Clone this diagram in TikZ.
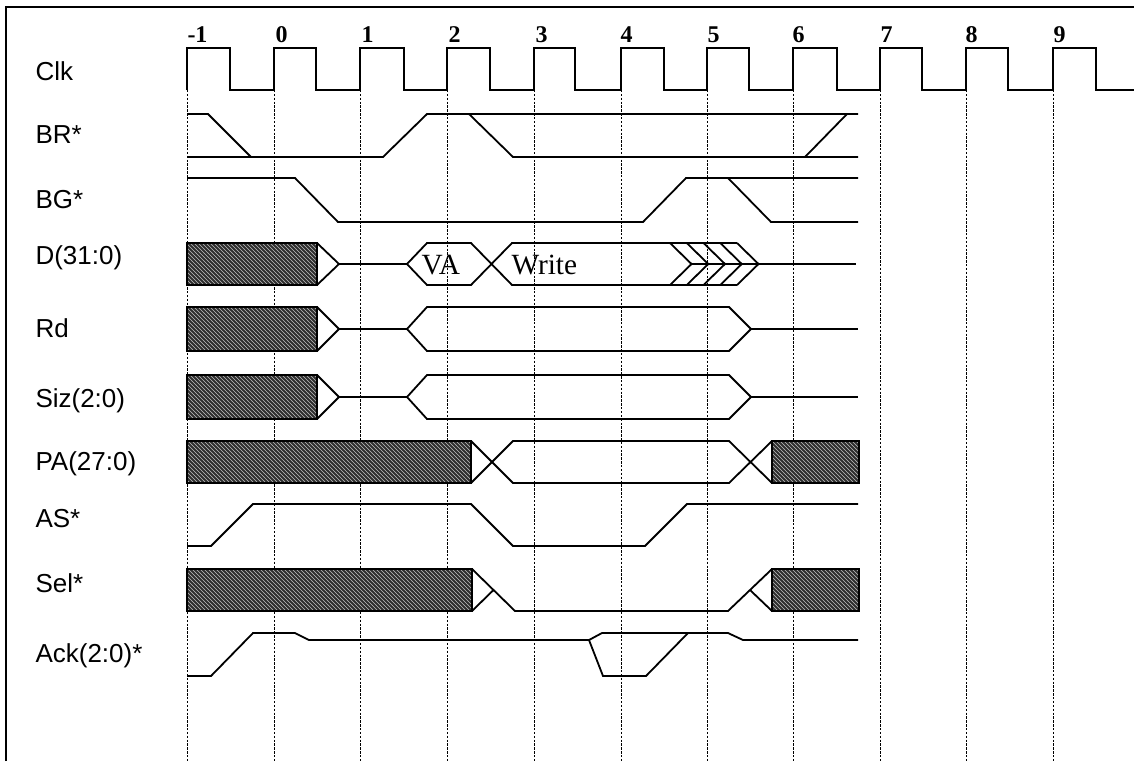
\documentclass[tikz,border=0pt]{standalone}
\usepackage{fontspec}
\setmainfont{Liberation Serif}
\setsansfont{Liberation Sans}
\usepackage{tikz}
\usetikzlibrary{patterns}
\tikzset{every picture/.style={line width=0.75pt}}
\tikzset{
	sig/.style={line width=1.35pt, line join=miter},
	tick/.style={line width=0.75pt, dash pattern=on 1.8pt off 1.1pt},
	bus/.style={sig, preaction={fill=black!82}, preaction={pattern=north west lines, pattern color=white!75!black}, draw},
	sname/.style={anchor=base west, inner sep=0pt, font=\sffamily\fontsize{19.5}{21}\selectfont},
	cnum/.style={anchor=base west, inner sep=0pt, font=\bfseries\fontsize{18}{20}\selectfont},
	val/.style={anchor=base west, inner sep=0pt, font=\fontsize{22}{24}\selectfont},
}
\begin{document}
\begin{tikzpicture}[x=0.75pt,y=0.75pt,yscale=-1,xscale=1]
	\useasboundingbox (0,0) rectangle (1134,761);
	
	%Frame
	\draw [line width=0.9pt] (6,761) -- (6,7) -- (1134,7) ;
	
	%Cycle lines
	\draw [tick] (187,90) -- (187,761) ;
	\draw [tick] (274,90) -- (274,761) ;
	\draw [tick] (360,90) -- (360,761) ;
	\draw [tick] (447,90) -- (447,761) ;
	\draw [tick] (534,90) -- (534,761) ;
	\draw [tick] (621,90) -- (621,761) ;
	\draw [tick] (707,90) -- (707,761) ;
	\draw [tick] (793,90) -- (793,761) ;
	\draw [tick] (880,90) -- (880,761) ;
	\draw [tick] (966,90) -- (966,761) ;
	\draw [tick] (1053,90) -- (1053,761) ;
	
	%Clk
	\draw [sig] (187,90) -- (187,48) -- (230,48) -- (230,90) -- (274,90) -- (274,48) -- (316,48) -- (316,90)
		-- (360,90) -- (360,48) -- (404,48) -- (404,90) -- (447,90) -- (447,48) -- (490,48) -- (490,90)
		-- (534,90) -- (534,48) -- (575,48) -- (575,90) -- (621,90) -- (621,48) -- (664,48) -- (664,90)
		-- (707,90) -- (707,48) -- (749,48) -- (749,90) -- (793,90) -- (793,48) -- (837,48) -- (837,90)
		-- (880,90) -- (880,48) -- (922,48) -- (922,90) -- (966,90) -- (966,48) -- (1008,48) -- (1008,90)
		-- (1053,90) -- (1053,48) -- (1096,48) -- (1096,90) -- (1134,90) ;
	
	%BR*
	\draw [sig] (187,114) -- (208,114) -- (251,157) ;
	\draw [sig] (187,157) -- (383,157) -- (427,114) -- (858,114) ;
	\draw [sig] (469,114) -- (513,157) -- (858,157) ;
	\draw [sig] (805,157) -- (847,114) ;
	
	%BG*
	\draw [sig] (187,178) -- (295,178) -- (338,222) -- (643,222) -- (686,178) -- (858,178) ;
	\draw [sig] (728,178) -- (771,222) -- (858,222) ;
	
	%D(31:0)
	\draw [bus] (187,243) rectangle (317,285) ;
	\draw [sig] (317,243) -- (339,264) -- (317,285) ;
	\draw [sig] (339,264) -- (407,264) ;
	\draw [sig] (407,264) -- (427,243) -- (471,243) -- (512,285) -- (737,285) ;
	\draw [sig] (407,264) -- (427,285) -- (471,285) -- (512,243) -- (737,243) ;
	\draw [sig] (670,243) -- (691.5,264) -- (670,285) ;
	\draw [sig] (686.75,243) -- (708.25,264) -- (686.75,285) ;
	\draw [sig] (703.5,243) -- (725,264) -- (703.5,285) ;
	\draw [sig] (720.25,243) -- (741.75,264) -- (720.25,285) ;
	\draw [sig] (737,243) -- (758.5,264) -- (737,285) ;
	\draw [sig] (691.5,264) -- (856,264) ;
	
	%Rd
	\draw [bus] (187,307) rectangle (317,351) ;
	\draw [sig] (317,307) -- (339,329) -- (317,351) ;
	\draw [sig] (339,329) -- (407,329) ;
	\draw [sig] (407,329) -- (427,307) -- (729,307) -- (751,329) -- (729,351) -- (427,351) -- cycle ;
	\draw [sig] (751,329) -- (858,329) ;
	
	%Siz(2:0)
	\draw [bus] (187,375) rectangle (317,419) ;
	\draw [sig] (317,375) -- (339,397) -- (317,419) ;
	\draw [sig] (339,397) -- (407,397) ;
	\draw [sig] (407,397) -- (427,375) -- (729,375) -- (751,397) -- (729,419) -- (427,419) -- cycle ;
	\draw [sig] (751,397) -- (858,397) ;
	
	%PA(27:0)
	\draw [bus] (187,441) rectangle (471,483) ;
	\draw [sig] (471,441) -- (513,483) -- (729,483) -- (772,441) ;
	\draw [sig] (471,483) -- (513,441) -- (729,441) -- (772,483) ;
	\draw [bus] (772,441) rectangle (859,483) ;
	
	%AS*
	\draw [sig] (187,546) -- (211,546) -- (253,504) -- (471,504) -- (513,546) -- (645,546) -- (687,504) -- (858,504) ;
	
	%Sel*
	\draw [bus] (187,569) rectangle (472,611) ;
	\draw [sig] (472,569) -- (515,611) -- (728,611) -- (772,569) ;
	\draw [sig] (472,611) -- (493.5,590) ;
	\draw [sig] (772,611) -- (750,590) ;
	\draw [bus] (772,569) rectangle (859,611) ;
	
	%Ack(2:0)*
	\draw [sig] (187,676) -- (211,676) -- (253,633) -- (295,633) -- (309,640) -- (589,640) -- (602,633) -- (728,633) -- (743,640) -- (858,640) ;
	\draw [sig] (589,640) -- (603,676) -- (646,676) -- (688,633) ;
	
	% Text Node
	\draw (35,80) node [sname] (lclk) {Clk};
	\draw (35,143) node [sname] (lbr) {BR*};
	\draw (35,208) node [sname] (lbg) {BG*};
	\draw (35,264) node [sname] (ld) {D(31:0)};
	\draw (35,337) node [sname] (lrd) {Rd};
	\draw (35,407) node [sname] (lsiz) {Siz(2:0)};
	\draw (35,470) node [sname] (lpa) {PA(27:0)};
	\draw (35,527) node [sname] (las) {AS*};
	\draw (35,592) node [sname] (lsel) {Sel*};
	\draw (35,662) node [sname] (lack) {Ack(2:0)*};
	% Text Node
	\draw (187,42) node [cnum] (cm1) {-1};
	\draw (275,42) node [cnum] (c0) {0};
	\draw (361,42) node [cnum] (c1) {1};
	\draw (448,42) node [cnum] (c2) {2};
	\draw (535,42) node [cnum] (c3) {3};
	\draw (620,42) node [cnum] (c4) {4};
	\draw (707,42) node [cnum] (c5) {5};
	\draw (792,42) node [cnum] (c6) {6};
	\draw (880,42) node [cnum] (c7) {7};
	\draw (965,42) node [cnum] (c8) {8};
	\draw (1053,42) node [cnum] (c9) {9};
	% Text Node
	\draw (421,274) node [val] (va) {VA};
	\draw (511,274) node [val] (wr) {Write};
	
\end{tikzpicture}
\end{document}
